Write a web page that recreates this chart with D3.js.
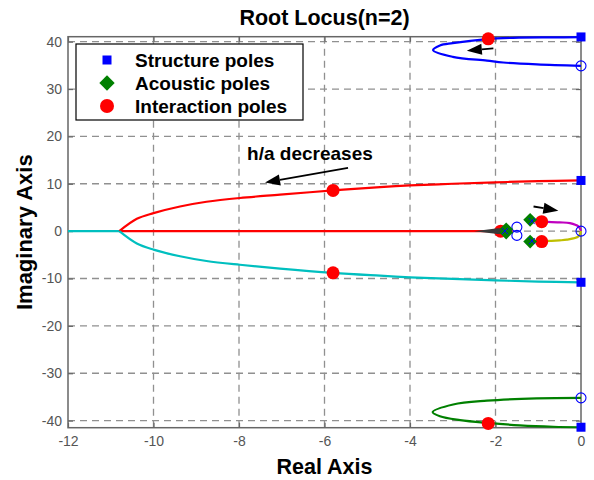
<!DOCTYPE html>
<html>
<head>
<meta charset="utf-8">
<script src="https://cdn.jsdelivr.net/npm/d3@7"></script>
<style>
body{margin:0;background:#fff;}
text{font-family:Arial,"Liberation Sans",sans-serif;}
</style>
</head>
<body>
<script>
// tick values
var xTicks = [-12,-10,-8,-6,-4,-2,0];
var yTicks = [-40,-30,-20,-10,0,10,20,30,40];

// locus branches (real, imag)
var redUpper = [[-10.8,0],[-10.39,2.6],[-10.0,3.8],[-9.38,5.2],[-8.76,6.2],[-7.98,7.0],[-7.04,7.7],[-5.8,8.6],[-4.7,9.3],[-4,9.65],[-3,10.0],[-2,10.3],[-1,10.55],[0,10.7]];
var cyanLower = [[-10.8,0],[-10.39,-2.6],[-10.0,-3.9],[-9.38,-5.3],[-8.76,-6.3],[-7.98,-7.1],[-7.04,-7.9],[-5.8,-8.8],[-4.7,-9.4],[-4,-9.75],[-3,-10.1],[-2,-10.4],[-1,-10.65],[0,-10.8]];
var redReal = [[-10.8,0],[-1.6,0]];
var cyanReal = [[-12,0],[-10.8,0]];
var blueTop = [[0,40.95],[-0.65,40.9],[-1.43,40.85],[-2.2,40.55],[-3.0,39.7],[-3.3,39.2],[-3.46,38.2],[-3.0,36.8],[-2.2,36.0],[-1.82,35.6],[-1.03,35.2],[0,34.9]];
var greenBottom = [[0,-35.2],[-1.04,-35.3],[-2.2,-35.8],[-2.99,-36.6],[-3.47,-38.2],[-3.3,-39.1],[-2.83,-39.9],[-2.17,-40.5],[-1.43,-41.0],[-0.65,-41.3],[0,-41.4]];
var magenta = [[-1.19,2.1],[-0.92,2.0],[-0.5,1.85],[-0.26,1.7],[-0.06,1.0],[0,0]];
var yellow = [[-1.19,-2.1],[-0.92,-2.1],[-0.5,-1.95],[-0.33,-1.8],[-0.06,-1.1],[0,0]];

// poles
var structPoles = [[0,41.0],[0,10.7],[0,-10.8],[0,-41.4]];
var acoustPoles = [[-1.75,0.4],[-1.75,-0.3],[-1.19,2.4],[-1.19,-2.2]];
var interPoles = [[-2.17,40.6],[-2.17,-40.6],[-5.8,8.6],[-5.8,-8.8],[-1.88,0],[-0.92,2.0],[-0.92,-2.2]];
var openCircles = [[0,34.9],[0,-35.2],[0,0],[-1.5,0.85],[-1.5,-0.9]];
var xMarks = [[-1.78,0],[-1.15,2.1],[-1.15,-2.1]];

// annotation arrows [from, to]
var arrows = [[[-5.45,13.35],[-7.39,10.25]],[[-2.05,38.6],[-2.67,38.1]],[[-1.11,5.2],[-0.53,4.3]]];

var W = 594, H = 480;
var pL = 68, pR = 581, pT = 36.7, pB = 427.7;

var svg = d3.select("body").append("svg").attr("width",W).attr("height",H);

var x = d3.scaleLinear().domain([-12,0]).range([pL,pR]);
var y = d3.scaleLinear().domain([-41.5,41.05]).range([pB,pT]);

// grid
svg.append("g").selectAll("line").data(xTicks.slice(1,-1)).enter().append("line")
  .attr("x1",d=>x(d)).attr("x2",d=>x(d)).attr("y1",pT).attr("y2",pB)
  .attr("stroke","#909090").attr("stroke-width",1.3).attr("stroke-dasharray","7,5");
svg.append("g").selectAll("line").data(yTicks).enter().append("line")
  .attr("x1",pL).attr("x2",pR).attr("y1",d=>y(d)).attr("y2",d=>y(d))
  .attr("stroke","#909090").attr("stroke-width",1.3).attr("stroke-dasharray","7,5");

// axes
var fmt = function(d){ return String(d); };
var axB = svg.append("g").attr("transform","translate(0,"+pB+")")
  .call(d3.axisBottom(x).tickValues(xTicks).tickSizeInner(-5).tickSizeOuter(0).tickPadding(8).tickFormat(fmt));
var axL = svg.append("g").attr("transform","translate("+pL+",0)")
  .call(d3.axisLeft(y).tickValues(yTicks).tickSizeInner(-5).tickSizeOuter(0).tickPadding(6).tickFormat(fmt));
var axT = svg.append("g").attr("transform","translate(0,"+pT+")")
  .call(d3.axisTop(x).tickValues(xTicks).tickSizeInner(-5).tickSizeOuter(0).tickFormat(""));
var axR = svg.append("g").attr("transform","translate("+pR+",0)")
  .call(d3.axisRight(y).tickValues(yTicks).tickSizeInner(-5).tickSizeOuter(0).tickFormat(""));
[axB,axL,axT,axR].forEach(function(a){
  a.selectAll("line").attr("stroke","#666").attr("stroke-width",1.2);
  a.select(".domain").remove();
  a.selectAll("text").attr("fill","#555").style("font-size","14px").style("font-family","Arial, 'Liberation Sans', sans-serif");
});
svg.append("rect").attr("x",pL).attr("y",pT).attr("width",pR-pL).attr("height",pB-pT)
  .attr("fill","none").attr("stroke","#666").attr("stroke-width",1.5);

// locus lines
var line = d3.line().x(d=>x(d[0])).y(d=>y(d[1])).curve(d3.curveCatmullRom.alpha(0.5));
var lines = [
  [cyanReal,"#00bfbf"],[redReal,"#ff0000"],[redUpper,"#ff0000"],[cyanLower,"#00bfbf"],
  [blueTop,"#0000ff"],[greenBottom,"#008000"],[magenta,"#bf00bf"],[yellow,"#bfbf00"]
];
lines.forEach(function(l){
  svg.append("path").attr("d",line(l[0])).attr("fill","none").attr("stroke",l[1]).attr("stroke-width",2.2);
});

// arrows
function arrow(a){
  var x1=x(a[0][0]), y1=y(a[0][1]), x2=x(a[1][0]), y2=y(a[1][1]);
  var ang=Math.atan2(y2-y1,x2-x1), L=15, hw=5.5;
  var bx=x2-L*Math.cos(ang), by=y2-L*Math.sin(ang);
  svg.append("line").attr("x1",x1).attr("y1",y1).attr("x2",bx).attr("y2",by)
    .attr("stroke","#000").attr("stroke-width",1.8);
  svg.append("path").attr("d","M"+x2+","+y2+
    "L"+(bx+hw*Math.sin(ang))+","+(by-hw*Math.cos(ang))+
    "L"+(bx-hw*Math.sin(ang))+","+(by+hw*Math.cos(ang))+"Z").attr("fill","#000");
}
arrows.forEach(arrow);

// open circles
svg.append("g").selectAll("circle").data(openCircles).enter().append("circle")
  .attr("cx",d=>x(d[0])).attr("cy",d=>y(d[1])).attr("r",5)
  .attr("fill","none").attr("stroke","#0000ff").attr("stroke-width",1.1);

// interaction poles
svg.append("g").selectAll("circle").data(interPoles).enter().append("circle")
  .attr("cx",d=>x(d[0])).attr("cy",d=>y(d[1])).attr("r",6.5).attr("fill","#ff0000");

// dark wedge on real axis
svg.append("path").attr("d",
  "M"+x(-2.5)+","+y(0)+"L"+x(-1.95)+","+(y(0)-2.8)+"L"+x(-1.7)+","+(y(0)-2.5)+"L"+x(-1.7)+","+(y(0)+2.5)+"L"+x(-1.95)+","+(y(0)+2.8)+"Z")
  .attr("fill","#3a3a3a");

// acoustic poles
var diamond = d3.symbol().type(d3.symbolDiamond2).size(120);
svg.append("g").selectAll("path").data(acoustPoles).enter().append("path")
  .attr("d",diamond).attr("transform",d=>"translate("+x(d[0])+","+y(d[1])+")")
  .attr("fill","#008000");

// small x marks
svg.append("g").selectAll("path").data(xMarks).enter().append("path")
  .attr("d",d=>{var cx=x(d[0]),cy=y(d[1]),s=3;return "M"+(cx-s)+","+(cy-s)+"L"+(cx+s)+","+(cy+s)+"M"+(cx-s)+","+(cy+s)+"L"+(cx+s)+","+(cy-s);})
  .attr("stroke","#0000ff").attr("stroke-width",1);

// structure poles
svg.append("g").selectAll("rect").data(structPoles).enter().append("rect")
  .attr("x",d=>x(d[0])-4.5).attr("y",d=>y(d[1])-4.5).attr("width",9).attr("height",9).attr("fill","#0000ff");

// annotation text
svg.append("text").attr("x",x(-6.34)).attr("y",y(15.0)).attr("text-anchor","middle")
  .style("font-weight","bold").style("font-size","19px").text("h/a decreases");

// legend
var lg = svg.append("g");
lg.append("rect").attr("x",76).attr("y",44).attr("width",227).attr("height",76)
  .attr("fill","#fff").attr("stroke","#000").attr("stroke-width",1.2);
var legendItems = ["Structure poles","Acoustic poles","Interaction poles"];
legendItems.forEach(function(t,i){
  var cy = 60 + i*23;
  if(i==0) lg.append("rect").attr("x",102.5).attr("y",cy-4.5).attr("width",9).attr("height",9).attr("fill","#0000ff");
  if(i==1) lg.append("path").attr("d",d3.symbol().type(d3.symbolDiamond2).size(150)).attr("transform","translate(107,"+cy+")").attr("fill","#008000");
  if(i==2) lg.append("circle").attr("cx",107).attr("cy",cy).attr("r",7).attr("fill","#ff0000");
  lg.append("text").attr("x",135).attr("y",cy+6.5).style("font-weight","bold").style("font-size","19px").text(t);
});

// title and axis labels
svg.append("text").attr("x",(pL+pR)/2).attr("y",25).attr("text-anchor","middle")
  .style("font-weight","bold").style("font-size","21.5px").text("Root Locus(n=2)");
svg.append("text").attr("x",(pL+pR)/2).attr("y",474).attr("text-anchor","middle")
  .style("font-weight","bold").style("font-size","21.5px").text("Real Axis");
svg.append("text").attr("transform","translate(32,"+((pT+pB)/2)+") rotate(-90)").attr("text-anchor","middle")
  .style("font-weight","bold").style("font-size","22px").text("Imaginary Axis");
</script>
</body>
</html>
